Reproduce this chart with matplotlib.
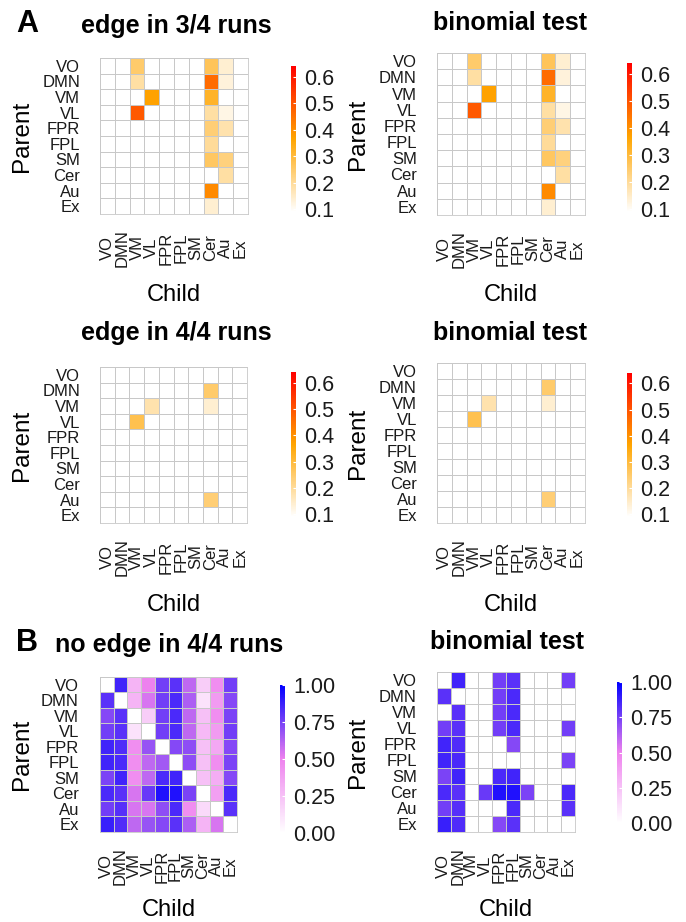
import numpy as np
import matplotlib
matplotlib.use("Agg")
import matplotlib.pyplot as plt
from matplotlib.colors import LinearSegmentedColormap, Normalize
from matplotlib.cm import ScalarMappable

plt.rcParams['font.family'] = ['Liberation Sans', 'DejaVu Sans']

# ---------------- data ----------------
networks = ["VO", "DMN", "VM", "VL", "FPR", "FPL", "SM", "Cer", "Au", "Ex"]

# edge frequency, edge in 3/4 runs (rows = parent, cols = child); 0 = empty
edge_3of4 = [
    [0, 0, 0.25, 0, 0, 0, 0, 0.27, 0.14, 0],
    [0, 0, 0.19, 0, 0, 0, 0, 0.46, 0.13, 0],
    [0, 0, 0, 0.37, 0, 0, 0, 0.32, 0, 0],
    [0, 0, 0.49, 0, 0, 0, 0, 0.19, 0.12, 0],
    [0, 0, 0, 0, 0, 0, 0, 0.24, 0.18, 0],
    [0, 0, 0, 0, 0, 0, 0, 0.20, 0, 0],
    [0, 0, 0, 0, 0, 0, 0, 0.26, 0.23, 0],
    [0, 0, 0, 0, 0, 0, 0, 0, 0.19, 0],
    [0, 0, 0, 0, 0, 0, 0, 0.41, 0, 0],
    [0, 0, 0, 0, 0, 0, 0, 0.14, 0, 0],
]
edge_3of4_binom = edge_3of4

edge_4of4 = [
    [0, 0, 0, 0, 0, 0, 0, 0, 0, 0],
    [0, 0, 0, 0, 0, 0, 0, 0.25, 0, 0],
    [0, 0, 0, 0.18, 0, 0, 0, 0.14, 0, 0],
    [0, 0, 0.28, 0, 0, 0, 0, 0, 0, 0],
    [0, 0, 0, 0, 0, 0, 0, 0, 0, 0],
    [0, 0, 0, 0, 0, 0, 0, 0, 0, 0],
    [0, 0, 0, 0, 0, 0, 0, 0, 0, 0],
    [0, 0, 0, 0, 0, 0, 0, 0, 0, 0],
    [0, 0, 0, 0, 0, 0, 0, 0.24, 0, 0],
    [0, 0, 0, 0, 0, 0, 0, 0, 0, 0],
]
edge_4of4_binom = edge_4of4

nan = np.nan
no_edge_4of4 = [
    [nan, 0.86, 0.30, 0.50, 0.76, 0.81, 0.60, 0.20, 0.45, 0.76],
    [0.81, nan, 0.30, 0.55, 0.76, 0.84, 0.64, 0.12, 0.40, 0.72],
    [0.72, 0.81, nan, 0.20, 0.76, 0.84, 0.60, 0.25, 0.45, 0.74],
    [0.76, 0.81, 0.12, nan, 0.76, 0.84, 0.60, 0.28, 0.40, 0.76],
    [0.86, 0.83, 0.45, 0.68, nan, 0.72, 0.70, 0.25, 0.35, 0.72],
    [0.86, 0.84, 0.45, 0.60, 0.66, nan, 0.70, 0.25, 0.45, 0.74],
    [0.74, 0.86, 0.45, 0.60, 0.84, 0.86, nan, 0.25, 0.33, 0.72],
    [0.84, 0.81, 0.55, 0.78, 0.93, 0.93, 0.74, nan, 0.38, 0.84],
    [0.76, 0.82, 0.55, 0.55, 0.70, 0.84, 0.45, 0.15, nan, 0.81],
    [0.88, 0.83, 0.60, 0.68, 0.72, 0.81, 0.64, 0.30, 0.55, nan],
]

# binomial-test significance for "no edge" (1 = significant)
no_edge_signif = [
    [0, 1, 0, 0, 1, 1, 0, 0, 0, 1],
    [1, 0, 0, 0, 1, 1, 0, 0, 0, 0],
    [0, 1, 0, 0, 1, 1, 0, 0, 0, 0],
    [1, 1, 0, 0, 1, 1, 0, 0, 0, 1],
    [1, 1, 0, 0, 0, 1, 0, 0, 0, 0],
    [1, 1, 0, 0, 0, 0, 0, 0, 0, 1],
    [1, 1, 0, 0, 1, 1, 0, 0, 0, 0],
    [1, 1, 0, 1, 1, 1, 1, 0, 0, 1],
    [1, 1, 0, 0, 0, 1, 0, 0, 0, 1],
    [1, 1, 0, 0, 1, 1, 0, 0, 0, 0],
]

orange_ticks = [0.1, 0.2, 0.3, 0.4, 0.5, 0.6]
purple_ticks = [0.0, 0.25, 0.5, 0.75, 1.0]
purple_ticklabels = ["0.00", "0.25", "0.50", "0.75", "1.00"]

# ---------------- styling ----------------
W, H = 686, 922
fig = plt.figure(figsize=(W / 100, H / 100), dpi=100)


def box(x0, y0, x1, y1):
    return [x0 / W, 1 - y1 / H, (x1 - x0) / W, (y1 - y0) / H]


cmap_or = LinearSegmentedColormap.from_list("or", ["white", "orange", "red"])
cmap_or.set_under("white")
cmap_or.set_bad("white")
norm_or = Normalize(vmin=0.09, vmax=0.64)

cmap_pu = LinearSegmentedColormap.from_list("pu", ["white", "violet", "blue"])
cmap_pu.set_bad("white")
norm_pu = Normalize(vmin=0.0, vmax=1.0)

GRID = "#c8c8c8"
TICK_FS = 12
PX = 0.72  # points per pixel at 100 dpi


def heat(hbox, data, cmap, norm, label_right):
    x0, y0, x1, y1 = hbox
    ax = fig.add_axes(box(x0, y0, x1, y1))
    arr = np.array(data, dtype=float)
    n = len(networks)
    ax.pcolormesh(np.arange(n + 1), np.arange(n + 1), np.ma.masked_invalid(arr),
                  cmap=cmap, norm=norm, edgecolors=GRID, linewidth=0.6)
    ax.set_xlim(0, n)
    ax.set_ylim(n, 0)
    for s in ax.spines.values():
        s.set_color(GRID)
        s.set_linewidth(0.6)
    ax.set_xticks(np.arange(n) + 0.5)
    ax.set_yticks(np.arange(n) + 0.5)
    ax.set_yticklabels(networks, fontsize=TICK_FS, color="#1a1a1a")
    ax.set_xticklabels(networks, fontsize=TICK_FS, color="#1a1a1a", rotation=90,
                       va="center", ha="center")
    ax.tick_params(axis="y", length=0, pad=(x0 - label_right) * PX)
    ax.tick_params(axis="x", length=0, pad=34 * PX)
    return ax


def cbar(cbox, cmap, norm, ticks, ticklabels=None):
    cax = fig.add_axes(box(*cbox))
    cb = fig.colorbar(ScalarMappable(norm=norm, cmap=cmap), cax=cax)
    cb.outline.set_visible(False)
    cb.set_ticks(ticks)
    if ticklabels is not None:
        cb.set_ticklabels(ticklabels)
    cax.tick_params(length=2, width=0.8, color="white", direction="in",
                    labelsize=15.5, pad=6, labelcolor="#1a1a1a")


def labels(hbox, parent_x, child_y):
    x0, y0, x1, y1 = hbox
    fig.text(parent_x / W, 1 - ((y0 + y1) / 2) / H, "Parent", rotation=90,
             ha="center", va="center", fontsize=17.5)
    fig.text(((x0 + x1) / 2) / W, 1 - child_y / H, "Child",
             ha="center", va="center", fontsize=17)


def title(x, y, s):
    fig.text(x / W, 1 - y / H, s, ha="center", va="center",
             fontsize=18, fontweight="bold")


# Panel A1
hb = (100, 58, 248, 214)
heat(hb, edge_3of4, cmap_or, norm_or, 80)
cbar((291, 66, 296, 212), cmap_or, norm_or, orange_ticks)
labels(hb, 22, 295)
title(176, 26, "edge in 3/4 runs")

# Panel A2
hb = (437, 53, 585, 215)
heat(hb, edge_3of4_binom, cmap_or, norm_or, 417)
cbar((627, 63, 632, 212), cmap_or, norm_or, orange_ticks)
labels(hb, 358, 295)
title(510, 23, "binomial test")

# Panel A3
hb = (100, 367, 247, 523)
heat(hb, edge_4of4, cmap_or, norm_or, 80)
cbar((291, 372, 296, 517), cmap_or, norm_or, orange_ticks)
labels(hb, 22, 605)
title(176, 333, "edge in 4/4 runs")

# Panel A4
hb = (437, 363, 585, 523)
heat(hb, edge_4of4_binom, cmap_or, norm_or, 417)
cbar((627, 373, 632, 517), cmap_or, norm_or, orange_ticks)
labels(hb, 358, 605)
title(510, 333, "binomial test")

# Panel B1
hb = (100, 677, 237, 832)
heat(hb, no_edge_4of4, cmap_pu, norm_pu, 79)
cbar((280, 685, 285, 833), cmap_pu, norm_pu, purple_ticks, purple_ticklabels)
labels(hb, 22, 910)
title(169, 645, "no edge in 4/4 runs")

# Panel B2
binom_vals = np.where(np.array(no_edge_signif) == 1, np.array(no_edge_4of4, dtype=float), np.nan)
hb = (437, 672, 575, 832)
heat(hb, binom_vals, cmap_pu, norm_pu, 417)
cbar((617, 682, 622, 823), cmap_pu, norm_pu, purple_ticks, purple_ticklabels)
labels(hb, 358, 910)
title(507, 642, "binomial test")

# Panel letters
fig.text(27 / W, 1 - 24 / H, "A", ha="center", va="center", fontsize=22, fontweight="bold")
fig.text(27 / W, 1 - 643 / H, "B", ha="center", va="center", fontsize=22, fontweight="bold")

fig.savefig("out.png", dpi=100, facecolor="white")
